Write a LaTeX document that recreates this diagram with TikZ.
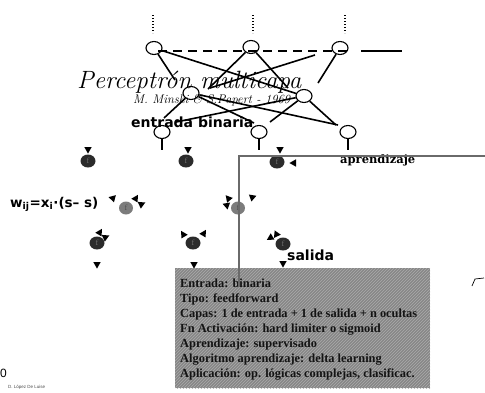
\documentclass[tikz,border=0pt]{standalone}
\usepackage{fontspec}
\newfontfamily\boldsans{DejaVu Sans}
\newfontfamily\boldserif{DejaVu Serif}
\newfontfamily\boxfont{Liberation Serif}
\newfontfamily\plainsans{Liberation Sans}
\usetikzlibrary{calc,patterns,shapes.geometric}

\definecolor{ballDark}{HTML}{2B2B2B}
\definecolor{ballGray}{HTML}{7C7C7C}
\definecolor{boxGray}{HTML}{878787}
\definecolor{boxHatch}{HTML}{ABABAB}
\definecolor{fbLine}{HTML}{6A6A6A}
\definecolor{boxInk}{HTML}{141414}

\tikzset{
  tri/.pic={\fill (3.6,0) -- (-3,3.7) -- (-3,-3.7) -- cycle;},
  unit/.style={ellipse, draw, line width=1.1pt, minimum width=16pt, minimum height=13pt, inner sep=0pt},
  link/.style={line width=1.6pt},
  fdark/.style={ellipse, fill=ballDark, minimum width=15pt, minimum height=13pt, inner sep=0pt,
    text=black!55, font=\fontsize{8}{8}\selectfont},
  fgray/.style={ellipse, fill=ballGray, minimum width=14pt, minimum height=13pt, inner sep=0pt,
    text=black!70, font=\fontsize{8}{8}\selectfont},
  boxtext/.style={anchor=base west, inner sep=0pt, text=boxInk,
    font=\boxfont\bfseries\fontsize{12.4}{13}\selectfont},
}

\begin{document}
\begin{tikzpicture}[x=1pt,y=-1pt]
\useasboundingbox (0,0) rectangle (485,392);

% upper layer units with the dotted lines above them
\node[unit] (t1) at (154,48) {};
\node[unit] (t2) at (251,47) {};
\node[unit] (t3) at (340,48) {};
\foreach \n/\x in {d1/153,d2/253,d3/345}{
  \coordinate (\n top) at (\x,15);
  \coordinate (\n bot) at (\x,33);
  \draw[line width=1.3pt, dash pattern=on 1.3pt off 1.7pt] (\n top) -- (\n bot);
}
\coordinate (dashA) at (158,51);
\coordinate (dashB) at (352,51);
\coordinate (solA) at (361,51);
\coordinate (solB) at (402,51);
\draw[line width=1.7pt, dash pattern=on 9pt off 6pt] (dashA) -- (dashB);
\draw[line width=1.7pt] (solA) -- (solB);

% hidden and lower units
\node[unit] (m1) at (191,93) {};
\node[unit] (m2) at (304,96) {};
\node[unit] (b1) at (162,132) {};
\node[unit] (b2) at (259,132) {};
\node[unit] (b3) at (348,132) {};
\foreach \b in {b1,b2,b3}{
  \coordinate (\b stem) at ($(\b.south)+(0,11)$);
  \draw[line width=1.4pt] (\b.south) -- (\b stem);
}

% connections between layers
\coordinate (e1) at (175,80);
\coordinate (e3) at (208,89);
\coordinate (e4) at (288,88);
\coordinate (e5a) at (315,55);
\coordinate (e5b) at (210,88);
\coordinate (e6) at (318,83);
\coordinate (e7) at (164,118);
\coordinate (e8) at (338,125);
\coordinate (e9) at (254,123);
\coordinate (e10) at (176,122);
\coordinate (e11) at (270,122);
\coordinate (e12) at (336,125);
\draw[link] (t1) -- (e1);
\draw[link] (t1) -- (m2);
\draw[link] (t2) -- (e3);
\draw[link] (t2) -- (e4);
\draw[link] (e5a) -- (e5b);
\draw[link] (t3) -- (e6);
\draw[link] (m1) -- (e7);
\draw[link] (m1) -- (e8);
\draw[link] (m1) -- (e9);
\draw[link] (m2) -- (e10);
\draw[link] (m2) -- (e11);
\draw[link] (m2) -- (e12);

% titles
\node[anchor=base west, inner sep=0pt, font=\itshape\fontsize{25}{25}\selectfont] (title) at (77,88) {Perceptrón multicapa};
\node[anchor=base west, inner sep=0pt, font=\itshape\fontsize{12.5}{12.5}\selectfont] (authors) at (133,103) {M. Minski \& S.Papert - 1969};
\node[anchor=base west, inner sep=0pt, font=\boldsans\bfseries\fontsize{14}{14}\selectfont] (entrada) at (131,127) {entrada binaria};

% processing units
\node[fdark] (f1) at (88,161) {f};
\node[fdark] (f2) at (186,161) {f};
\node[fdark] (f3) at (277,162) {f};
\node[fgray] (g1) at (126,208) {f};
\node[fgray] (g2) at (238,208) {f};
\node[fdark] (f4) at (97,243) {f};
\node[fdark] (f5) at (193,243) {f};
\node[fdark] (f6) at (283,244) {f};

% arrowheads around the units
\pic[rotate=-90] at (88,150) {tri};
\pic[rotate=-90] at (188,150) {tri};
\pic[rotate=-90] at (280,150) {tri};
\pic[rotate=180] at (293,163) {tri};
\pic[rotate=165] at (112,198) {tri};
\pic[rotate=60] at (136,198) {tri};
\pic[rotate=25] at (142,204) {tri};
\pic[rotate=130] at (228,198) {tri};
\pic[rotate=160] at (226,205) {tri};
\pic[rotate=20] at (253,197) {tri};
\pic[rotate=60] at (100,232) {tri};
\pic[rotate=25] at (106,237) {tri};
\pic[rotate=120] at (183,234) {tri};
\pic[rotate=60] at (204,233) {tri};
\pic[rotate=210] at (270,238) {tri};
\pic[rotate=235] at (276,235) {tri};
\pic[rotate=-90] at (97,265) {tri};
\pic[rotate=-90] at (194,265) {tri};
\pic[rotate=-90] at (283,264) {tri};

% labels
\node[anchor=base west, inner sep=0pt, font=\boldsans\bfseries\fontsize{13.5}{14}\selectfont] (rule) at (10,207)
  {w\textsubscript{ij}=x\textsubscript{i}·(s– s)};
\node[anchor=base west, inner sep=0pt, font=\boldserif\bfseries\fontsize{11.5}{12}\selectfont] (aprend) at (340,163) {aprendizaje};
\node[anchor=base west, inner sep=0pt, font=\boldsans\bfseries\fontsize{14}{14}\selectfont] (salida) at (287,260) {salida};

% summary box
\coordinate (boxNW) at (175,268);
\coordinate (boxSE) at (430,388);
\fill[boxGray] (boxNW) rectangle (boxSE);
\fill[pattern=north east lines, pattern color=boxHatch] (boxNW) rectangle (boxSE);
\foreach \t [count=\i] in {{Entrada: binaria},{Tipo: feedforward},{Capas: 1 de entrada + 1 de salida + n ocultas},
  {Fn Activación: hard limiter o sigmoid},{Aprendizaje: supervisado},{Algoritmo aprendizaje: delta learning},
  {Aplicación: op. lógicas complejas, clasificac.}}{
  \node[boxtext] (info\i) at (180,272+15*\i) {\t};
}

% learning feedback path
\coordinate (fbR) at (485,156);
\coordinate (fbC) at (239,156);
\coordinate (fbB) at (239,287);
\draw[fbLine, line width=1.2pt] (fbR) -- (fbC) -- (fbB);

% small mark at the right edge
\coordinate (mk1) at (472,286);
\coordinate (mk2) at (475,279);
\coordinate (mk3) at (484,278);
\draw[line width=0.7pt] (mk1) -- (mk2) -- (mk3);

% footer
\node[anchor=base west, inner sep=0pt, font=\plainsans\fontsize{12}{12}\selectfont] (page) at (0,377) {0};
\node[anchor=base west, inner sep=0pt, font=\plainsans\fontsize{4.5}{5}\selectfont, text=black!70] (credit) at (8,388) {D. López De Luise};
\end{tikzpicture}
\end{document}
